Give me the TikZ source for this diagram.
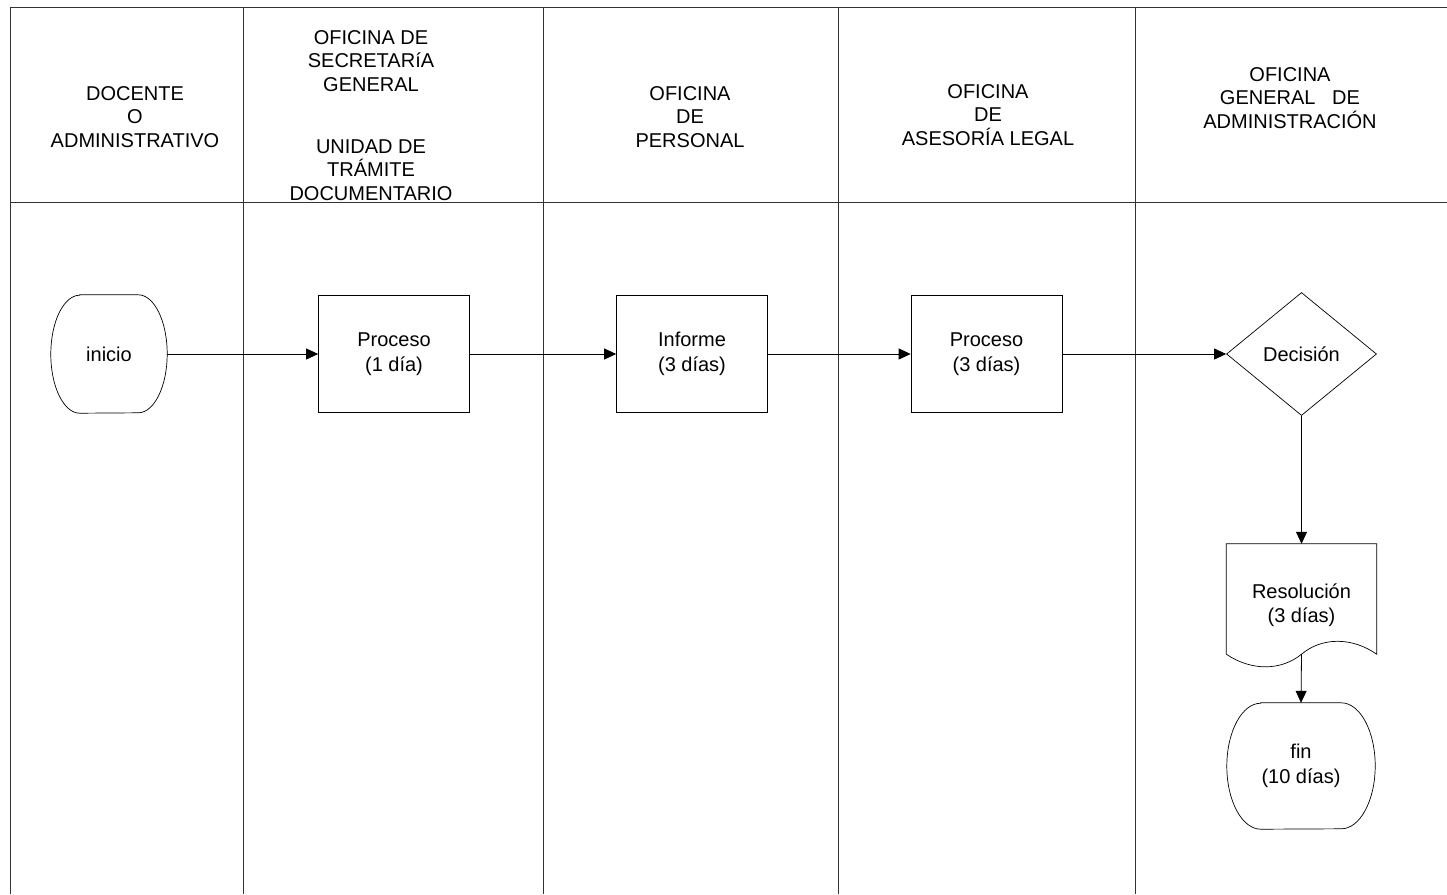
\documentclass[tikz,border=0pt]{standalone}
\usepackage{fontspec}
\setmainfont{Liberation Sans}
\usetikzlibrary{shapes.geometric,arrows.meta}
\begin{document}
\begin{tikzpicture}[x=1pt,y=-1pt,
  lane/.style={line width=1pt, draw=black!80},
  hdr/.style={align=center, font=\fontsize{20}{23.5}\selectfont, inner sep=0pt},
  txt/.style={align=center, font=\fontsize{20}{24.5}\selectfont},
  shp/.style={line width=0.7pt},
  proc/.style={draw, shp, minimum width=151pt, minimum height=117pt, inner sep=0pt, txt},
  term/.style={minimum width=116pt, minimum height=118pt, inner sep=0pt, txt},
  flow/.style={line width=0.8pt, -{Triangle[length=12pt,width=11pt]}},
]
\useasboundingbox (0,0) rectangle (1447,894);

% swimlanes
\draw[lane] (10,7) -- (1447,7);
\draw[lane] (10,202) -- (1447,202);
\foreach \x in {10,243,543,838,1135} \draw[lane] (\x,7) -- (\x,894);

% headers
\node[hdr] (h1) at (135,117) {DOCENTE\\O\\ADMINISTRATIVO};
\node[hdr] (h2a) at (371,61) {OFICINA DE\\SECRETARíA\\GENERAL};
\node[hdr] (h2b) at (371,170) {UNIDAD DE\\TRÁMITE\\DOCUMENTARIO};
\node[hdr] (h3) at (690,117) {OFICINA\\DE\\PERSONAL};
\node[hdr] (h4) at (988,115) {OFICINA\\DE\\ASESORÍA LEGAL};
\node[hdr] (h5) at (1290,98) {OFICINA\\GENERAL\ \ \ DE\\ADMINISTRACIÓN};

% inicio (terminal)
\node[term] (ini) at (109,354) {inicio};
\draw[shp] ([xshift=29pt]ini.north west) -- ([xshift=-29pt]ini.north east)
  arc[start angle=90,end angle=-90,x radius=29pt,y radius=59pt]
  -- ([xshift=29pt]ini.south west)
  arc[start angle=270,end angle=90,x radius=29pt,y radius=59pt] -- cycle;

% processes
\node[proc] (p1) at (394,354) {Proceso\\(1 día)};
\node[proc] (p2) at (692,354) {Informe\\(3 días)};
\node[proc] (p3) at (986.5,354) {Proceso\\(3 días)};

% decision
\node[diamond, draw, shp, minimum width=150pt, minimum height=123pt, inner sep=0pt, txt] (dec) at (1301.5,354) {Decisión};

% document
\node[minimum width=150pt, minimum height=122pt, inner sep=0pt, txt] (res) at (1301.5,605) {Resolución\\(3 días)};
\draw[shp] ([yshift=12pt]res.south west) -- (res.north west) -- (res.north east) -- ([yshift=12pt]res.south east)
  .. controls (1352,637) and (1322,637) .. ([yshift=12pt]res.south)
  .. controls (1281,671) and (1251,671) .. ([yshift=12pt]res.south west);

% fin (terminal)
\node[term, minimum width=148pt, minimum height=126pt] (fin) at (1301,766) {fin\\(10 días)};
\draw[shp] ([xshift=34pt]fin.north west) -- ([xshift=-34pt]fin.north east)
  arc[start angle=90,end angle=-90,x radius=34pt,y radius=63pt]
  -- ([xshift=34pt]fin.south west)
  arc[start angle=270,end angle=90,x radius=34pt,y radius=63pt] -- cycle;

% connectors
\draw[flow] (ini.east) -- (p1.west);
\draw[flow] (p1.east) -- (p2.west);
\draw[flow] (p2.east) -- (p3.west);
\draw[flow] (p3.east) -- (dec.west);
\draw[flow] (dec.south) -- (res.north);
\draw[flow] ([yshift=12pt]res.south) -- (fin.north);
\end{tikzpicture}
\end{document}
